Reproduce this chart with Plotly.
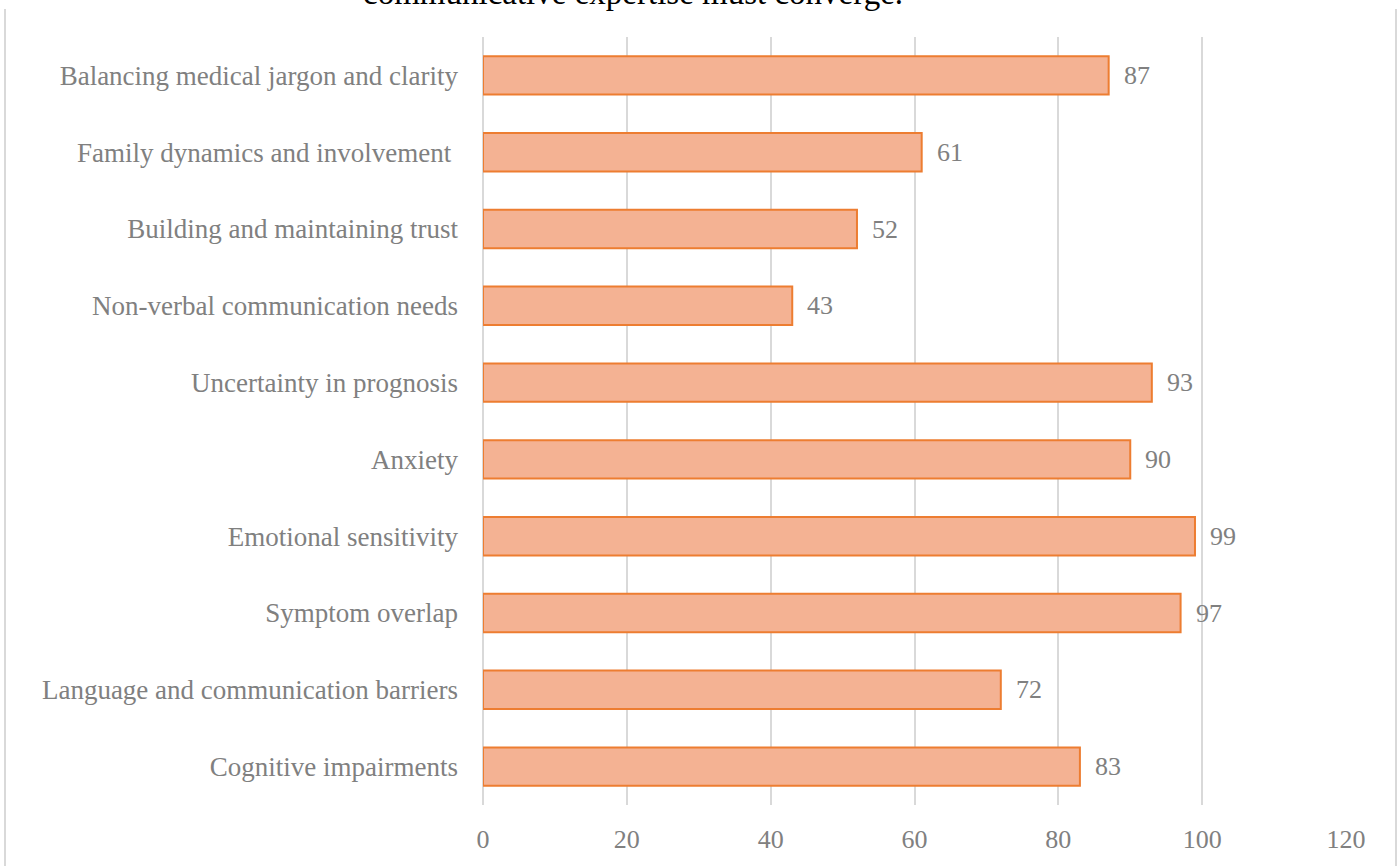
import plotly.graph_objects as go

categories = [
    "Cognitive impairments",
    "Language and communication barriers",
    "Symptom overlap",
    "Emotional sensitivity",
    "Anxiety",
    "Uncertainty in prognosis",
    "Non-verbal communication needs",
    "Building and maintaining trust",
    "Family dynamics and involvement\u00a0",
    "Balancing medical jargon and clarity",
]
values = [83, 72, 97, 99, 90, 93, 43, 52, 61, 87]
x_ticks = [0, 20, 40, 60, 80, 100, 120]

W, H = 1400, 866
L, R, T, B = 483, 54, 37, 61
pw = W - L - R
ph = H - T - B

FONT = "Liberation Serif"
GRAY = "#808080"

fig = go.Figure()
fig.add_trace(go.Bar(
    y=categories, x=values, orientation="h",
    marker=dict(color="#f4b293", line=dict(color="#ED7D31", width=2)),
    width=0.5,
    hoverinfo="x+y",
))

for c, v in zip(categories, values):
    fig.add_annotation(x=v, y=c, text=str(v), showarrow=False,
                       xanchor="left", yanchor="middle", xshift=13,
                       font=dict(family=FONT, size=26, color=GRAY))

# subtitle fragment cut off at top
fig.add_annotation(xref="paper", yref="paper",
                   x=(633 - L) / pw, y=(H - B + 7) / ph,
                   text="communicative expertise must converge.",
                   showarrow=False, xanchor="center", yanchor="middle",
                   font=dict(family=FONT, size=33, color="#000000"))

# outer frame edges
for px in (5, 1396):
    fig.add_shape(type="line", xref="paper", yref="paper",
                  x0=(px - L) / pw, x1=(px - L) / pw,
                  y0=(H - B - 9) / ph, y1=(H - B - 870) / ph,
                  line=dict(color="#d9d9d9", width=2))

fig.update_layout(
    width=W, height=H,
    margin=dict(l=L, r=R, t=T, b=B),
    paper_bgcolor="white", plot_bgcolor="white",
    showlegend=False,
    bargap=0.5,
    font=dict(family=FONT, color=GRAY),
)
fig.update_xaxes(range=[0, 120], tickvals=x_ticks, ticktext=[str(t) for t in x_ticks],
                 showgrid=True, gridcolor="#d9d9d9", gridwidth=1.5,
                 zeroline=True, zerolinecolor="#d9d9d9", zerolinewidth=1.5,
                 showline=False, ticks="", tickfont=dict(family=FONT, size=26, color=GRAY),
                 ticklabelstandoff=16, fixedrange=True)
fig.update_yaxes(categoryorder="array", categoryarray=categories,
                 showgrid=False, zeroline=False, showline=False, ticks="",
                 tickfont=dict(family=FONT, size=27, color=GRAY),
                 ticklabelstandoff=24, fixedrange=True)

fig.write_html("out.html")
